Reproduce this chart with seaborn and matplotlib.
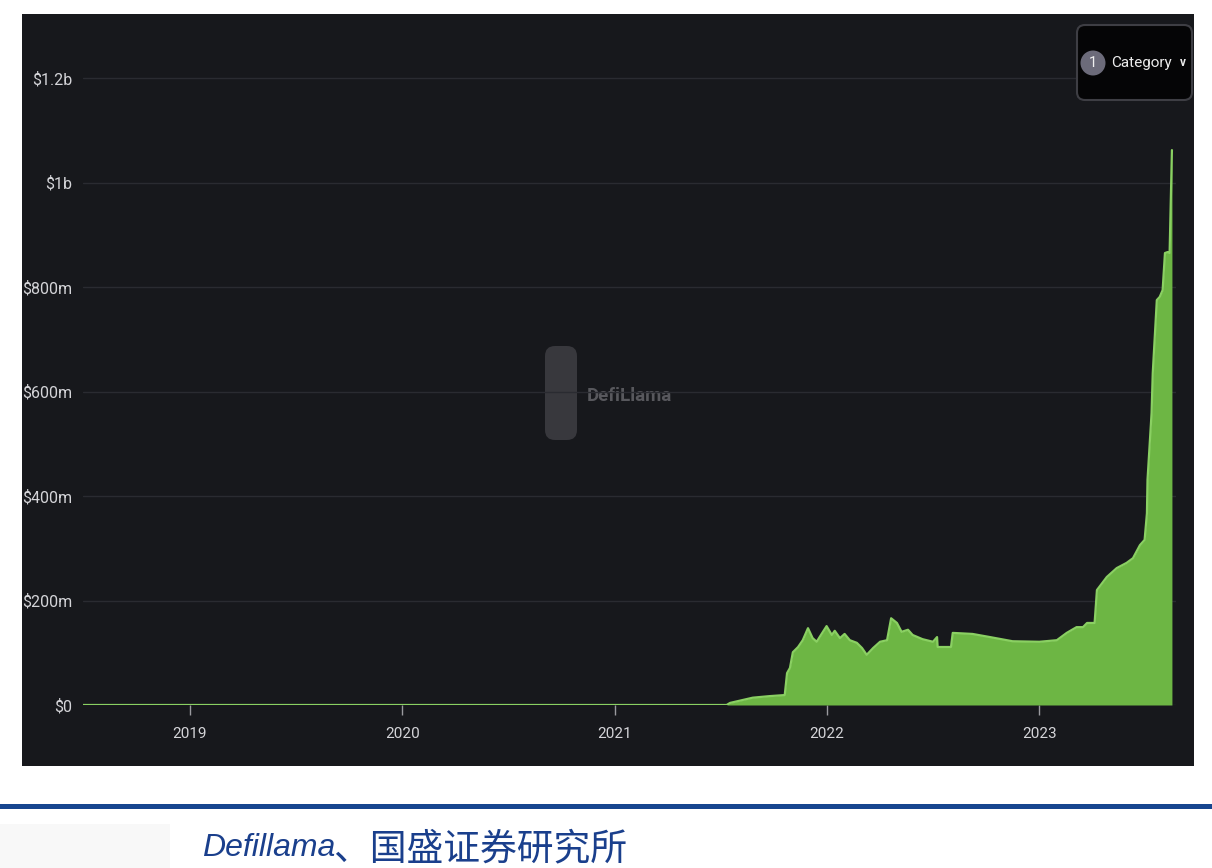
import numpy as np
import pandas as pd
import matplotlib
matplotlib.use("Agg")
import matplotlib.pyplot as plt
import matplotlib.dates as mdates
from matplotlib.patches import Rectangle, FancyBboxPatch, Circle
from matplotlib.transforms import IdentityTransform
import seaborn as sns

# ---------------- data (TVL, millions of USD) ----------------
dates = [
    "2018-07-01", "2021-07-12", "2021-07-18", "2021-08-26", "2021-09-24",
    "2021-10-20", "2021-10-24", "2021-10-29", "2021-11-03", "2021-11-12",
    "2021-11-20", "2021-11-29", "2021-12-07", "2021-12-14", "2021-12-19",
    "2021-12-31", "2022-01-09", "2022-01-14", "2022-01-23", "2022-01-31",
    "2022-02-09", "2022-02-21", "2022-03-02", "2022-03-10", "2022-03-21",
    "2022-04-02", "2022-04-14", "2022-04-21", "2022-05-01", "2022-05-09",
    "2022-05-20", "2022-05-28", "2022-06-14", "2022-07-02", "2022-07-09",
    "2022-07-10", "2022-08-02", "2022-08-05", "2022-09-08", "2022-10-08",
    "2022-11-16", "2023-01-01", "2023-01-31", "2023-02-17", "2023-03-06",
    "2023-03-17", "2023-03-24", "2023-04-06", "2023-04-10", "2023-04-27",
    "2023-05-14", "2023-05-31", "2023-06-11", "2023-06-23", "2023-07-01",
    "2023-07-05", "2023-07-06", "2023-07-13", "2023-07-15", "2023-07-22",
    "2023-07-27", "2023-08-01", "2023-08-05", "2023-08-10", "2023-08-13",
    "2023-08-17",
]
tvl_musd = [
    0, 0, 4, 14, 17,
    19, 61, 71, 101, 111,
    124, 147, 128, 121, 130,
    151, 134, 142, 128, 136,
    124, 119, 109, 96, 109,
    121, 124, 166, 157, 140,
    144, 134, 126, 121, 130,
    111, 111, 138, 136, 130,
    122, 121, 124, 138, 149,
    149, 157, 157, 220, 245,
    262, 272, 281, 306, 316,
    367, 431, 559, 635, 775,
    781, 794, 865, 867, 865,
    1062,
]
y_ticks = [0, 200, 400, 600, 800, 1000, 1200]
y_tick_labels = ["$0", "$200m", "$400m", "$600m", "$800m", "$1b", "$1.2b"]
legend_label = "Category"
watermark = "DefiLlama"
source_latin = "Defillama"
source_cjk = "、国盛证券研究所"

# ---------------- style ----------------
BG = "#17181c"
FILL = "#6db644"
LINE = "#8ad062"
GRID = "#2a2b31"
TXT = "#d4d4d8"
NARROW = ["Roboto", "DejaVu Sans"]

sns.set_theme(style="dark")
plt.rcParams["font.family"] = ["DejaVu Sans", "Noto Sans CJK SC"]

W, H = 1212, 868
fig = plt.figure(figsize=(W / 100, H / 100), dpi=100)
fig.patch.set_facecolor("white")
PX = IdentityTransform()

def fx(x):
    return x / W

def fy(y):
    return 1 - y / H

# dark panel (behind everything)
fig.patches.append(Rectangle((22, H - 766), 1172, 752, transform=PX,
                             facecolor=BG, edgecolor="none", zorder=-5))
# watermark logo + text (behind the plot area)
fig.patches.append(FancyBboxPatch((545, H - 440), 32, 94, transform=PX,
                                  boxstyle="round,pad=0,rounding_size=10",
                                  facecolor="#38383d", edgecolor="none", zorder=-4))
fig.text(fx(587), fy(396), watermark, color="#58585d", fontsize=13.5,
         fontweight="bold", ha="left", va="center", family=NARROW, zorder=-4)

ax = fig.add_axes([fx(83), fy(705), fx(1176) - fx(83), fy(25.75) - fy(705)])
ax.set_facecolor("none")

df = pd.DataFrame({"date": pd.to_datetime(dates), "tvl": tvl_musd})
ax.fill_between(df["date"], df["tvl"], 0, color=FILL, linewidth=0, zorder=2)
sns.lineplot(data=df, x="date", y="tvl", ax=ax, color=LINE, linewidth=1.6, zorder=3)

ax.set_xlim(pd.Timestamp("2018-07-01"), pd.Timestamp("2023-08-24"))
ax.set_ylim(0, 1300)
ax.set_xlabel("")
ax.set_ylabel("")
for s in ax.spines.values():
    s.set_visible(False)

ax.set_yticks(y_ticks)
ax.set_yticklabels(y_tick_labels, family=NARROW, fontsize=11.5, color=TXT)
ax.yaxis.grid(True, color=GRID, linewidth=1.0, zorder=1)
ax.xaxis.grid(False)
ax.tick_params(axis="y", length=0, pad=8)

ax.xaxis.set_major_locator(mdates.YearLocator())
ax.xaxis.set_major_formatter(mdates.DateFormatter("%Y"))
ax.tick_params(axis="x", bottom=True, length=7, width=1, color="#9a9a9f",
               pad=9, labelcolor=TXT)
for lab in ax.get_xticklabels():
    lab.set_family(NARROW)
    lab.set_fontsize(11)

# category selector (top right)
fig.patches.append(FancyBboxPatch((1077, H - 100), 115, 75, transform=PX,
                                  boxstyle="round,pad=0,rounding_size=8",
                                  facecolor="#050506", edgecolor="#3e3e44",
                                  linewidth=1.5, zorder=5))
fig.patches.append(Circle((1093, H - 63), 12.5, transform=PX,
                          facecolor="#6c6b7a", edgecolor="none", zorder=6))
fig.text(fx(1093), fy(63), "1", color="#f0f0f0", fontsize=10.5,
         ha="center", va="center", family=NARROW, zorder=7)
fig.text(fx(1111), fy(63), legend_label, color="#ececec", fontsize=11,
         ha="left", va="center", family=NARROW, zorder=7)
fig.text(fx(1183), fy(62), "v", color="#ececec", fontsize=8.5, fontweight="bold",
         ha="center", va="center", family=NARROW, zorder=7)

# bottom rule and source
fig.patches.append(Rectangle((0, H - 809), W, 5, transform=PX,
                             facecolor="#17468f", edgecolor="none", zorder=1))
fig.patches.append(Rectangle((0, 0), 170, 44, transform=PX,
                             facecolor="#f8f8f8", edgecolor="none", zorder=1))
fig.text(fx(202), fy(848), source_latin, color="#1a3f8c", fontsize=23,
         style="italic", ha="left", va="center", family=["Liberation Sans"])
fig.text(fx(333), fy(849), source_cjk, color="#1a3f8c", fontsize=26.5,
         ha="left", va="center", family=["Noto Sans CJK SC"])

fig.savefig("out.png", dpi=100, facecolor="white")
